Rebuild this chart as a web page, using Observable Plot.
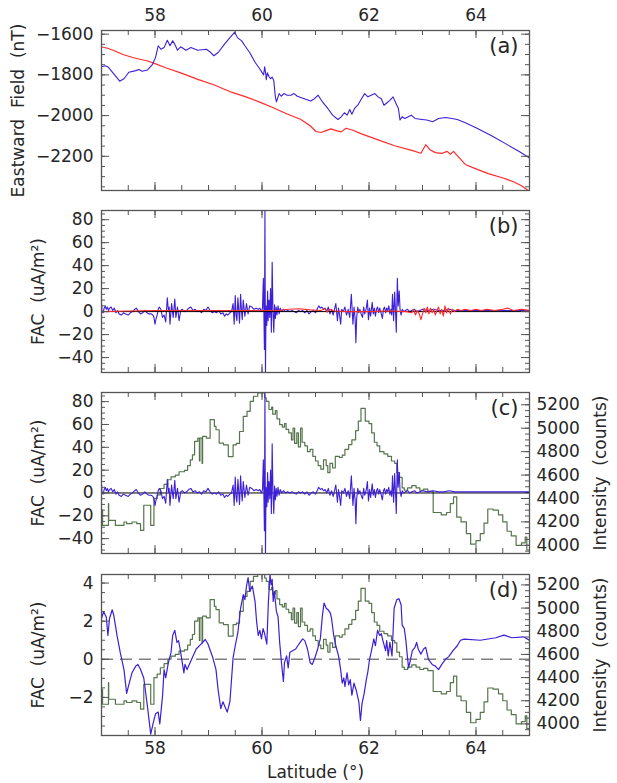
<!DOCTYPE html>
<html>
<head>
<meta charset="utf-8">
<script src="https://cdn.jsdelivr.net/npm/d3@7"></script>
<script src="https://cdn.jsdelivr.net/npm/@observablehq/plot@0.6"></script>
<style>
  body { margin: 0; background: #fff; }
  #fig { position: relative; width: 617px; height: 783px; background: #fff; overflow: hidden; }
  #fig svg { position: absolute; left: 0; }
</style>
</head>
<body>
<div id="fig"></div>
<script>
// ---------------- DATA ----------------
const latLabels = [58, 60, 62, 64];
const eastTickLabels = [-2200, -2000, -1800, -1600];
const facTickLabels = [-40, -20, 0, 20, 40, 60, 80];
const facSmoothTickLabels = [-2, 0, 2, 4];
const intensityTickLabels = [4000, 4200, 4400, 4600, 4800, 5000, 5200];
const panelNames = ["(a)", "(b)", "(c)", "(d)"];

// (a) eastward field, observed (blue) [latitude, nT]
const eastObserved = [
[57.00,-1760],[57.07,-1755],[57.13,-1763],[57.23,-1795],[57.34,-1831],[57.42,-1819],[57.51,-1787],[57.64,-1779],[57.70,-1774],[57.76,-1782],[57.86,-1776],[57.95,-1750],[58.01,-1714],[58.06,-1657],[58.11,-1674],[58.17,-1666],[58.23,-1630],[58.28,-1657],[58.33,-1633],[58.37,-1649],[58.42,-1679],[58.48,-1662],[58.58,-1679],[58.67,-1666],[58.80,-1679],[58.96,-1674],[59.02,-1685],[59.10,-1706],[59.18,-1690],[59.30,-1649],[59.40,-1617],[59.49,-1590],[59.54,-1617],[59.62,-1633],[59.68,-1657],[59.77,-1690],[59.87,-1738],[59.96,-1771],[60.03,-1800],[60.05,-1760],[60.07,-1795],[60.08,-1824],[60.10,-1790],[60.13,-1808],[60.16,-1819],[60.19,-1811],[60.22,-1828],[60.25,-1908],[60.27,-1933],[60.32,-1892],[60.36,-1905],[60.41,-1892],[60.47,-1900],[60.54,-1900],[60.60,-1892],[60.66,-1905],[60.79,-1917],[60.91,-1928],[60.98,-1917],[61.05,-1900],[61.13,-1933],[61.23,-1965],[61.32,-1998],[61.42,-2019],[61.48,-2006],[61.54,-1986],[61.59,-1998],[61.64,-1970],[61.68,-1993],[61.73,-1965],[61.79,-1949],[61.86,-1917],[61.92,-1892],[61.98,-1908],[62.04,-1900],[62.11,-1892],[62.17,-1908],[62.23,-1917],[62.28,-1949],[62.33,-1938],[62.39,-1925],[62.45,-1908],[62.52,-1949],[62.55,-1965],[62.58,-2022],[62.62,-2006],[62.67,-2014],[62.79,-1998],[62.86,-2014],[62.99,-2019],[63.08,-2022],[63.19,-2030],[63.30,-2014],[63.43,-2009],[63.55,-2014],[63.65,-2019],[63.80,-2035],[64.00,-2060],[64.30,-2100],[64.60,-2145],[64.80,-2175],[65.00,-2208]
];

// (a) eastward field, model (red)
const eastModel = [
[57.00,-1663],[57.10,-1668],[57.23,-1680],[57.40,-1700],[57.60,-1716],[57.86,-1732],[58.00,-1745],[58.20,-1765],[58.48,-1790],[58.80,-1822],[59.11,-1850],[59.43,-1885],[59.70,-1908],[59.97,-1935],[60.20,-1960],[60.47,-1992],[60.72,-2018],[60.90,-2050],[61.01,-2078],[61.10,-2083],[61.20,-2074],[61.29,-2065],[61.40,-2075],[61.48,-2080],[61.57,-2062],[61.70,-2072],[61.86,-2090],[62.17,-2119],[62.48,-2148],[62.80,-2171],[62.97,-2185],[63.06,-2143],[63.14,-2168],[63.24,-2182],[63.36,-2186],[63.46,-2176],[63.52,-2190],[63.58,-2176],[63.65,-2197],[63.80,-2240],[64.00,-2262],[64.23,-2285],[64.52,-2308],[64.70,-2325],[64.85,-2345],[65.00,-2372]
];

// (b),(c) field-aligned current, observed (blue) [latitude, uA/m2]
const facObserved = [
[57.000,8],[57.010,0],[57.030,-1],[57.050,3],[57.070,5],[57.090,2],[57.110,4],[57.130,1],[57.150,3],[57.180,4],[57.210,1],[57.240,3],[57.270,-1],[57.300,1],[57.330,-2],[57.370,-3],[57.410,-1],[57.450,-2],[57.500,-3],[57.540,-1],[57.580,0],[57.620,2],[57.650,3],[57.690,0],[57.730,-2],[57.770,-1],[57.810,1],[57.850,-1],[57.890,-2],[57.930,-2],[57.960,-3],[57.980,-5],[58.000,-11],[58.020,-6],[58.040,-3],[58.060,2],[58.080,4],[58.110,2],[58.140,-5],[58.170,-3],[58.200,-9],[58.230,12],[58.250,1],[58.265,4],[58.280,-11],[58.310,7],[58.340,-5],[58.370,11],[58.390,-5],[58.420,4],[58.450,-8],[58.480,1],[58.510,2],[58.550,0],[58.590,1],[58.630,3],[58.670,4],[58.710,1],[58.750,2],[58.790,0],[58.830,1],[58.870,-1],[58.910,2],[58.950,1],[58.990,4],[59.030,1],[59.070,-1],[59.110,0],[59.150,-1],[59.190,1],[59.230,-2],[59.270,-1],[59.300,-4],[59.330,-2],[59.360,-3],[59.400,-1],[59.430,0],[59.460,7],[59.480,-11],[59.500,14],[59.515,-3],[59.530,-8],[59.550,12],[59.580,-10],[59.600,15],[59.615,2],[59.630,-7],[59.650,10],[59.680,-4],[59.710,7],[59.740,-2],[59.770,5],[59.810,4],[59.850,2],[59.890,3],[59.930,2],[59.960,3],[59.990,0],[60.010,3],[60.025,29],[60.035,0],[60.045,-33],[60.055,88],[60.065,-54],[60.075,5],[60.090,-12],[60.105,18],[60.115,-8],[60.130,10],[60.145,-5],[60.160,20],[60.175,-18],[60.190,43],[60.205,0],[60.220,-18],[60.235,6],[60.250,-6],[60.265,4],[60.280,-3],[60.300,5],[60.320,-2],[60.340,3],[60.370,0],[60.400,2],[60.440,0],[60.480,1],[60.520,0],[60.560,1],[60.600,0],[60.640,-1],[60.680,1],[60.720,0],[60.760,1],[60.800,-1],[60.840,1],[60.880,-2],[60.920,0],[60.960,1],[61.000,-1],[61.030,2],[61.060,5],[61.090,3],[61.120,4],[61.150,2],[61.180,3],[61.210,0],[61.240,4],[61.270,-2],[61.300,2],[61.330,-3],[61.360,3],[61.380,7],[61.410,-8],[61.430,3],[61.450,-3],[61.470,-11],[61.490,2],[61.520,0],[61.550,4],[61.580,-3],[61.610,2],[61.640,-5],[61.670,15],[61.700,-11],[61.720,4],[61.740,-6],[61.755,-27],[61.770,-5],[61.790,4],[61.810,-1],[61.830,2],[61.860,-3],[61.880,-5],[61.900,4],[61.920,-2],[61.950,3],[61.970,10],[61.990,-7],[62.010,3],[62.030,-4],[62.060,8],[62.080,-2],[62.100,3],[62.120,-4],[62.140,2],[62.160,4],[62.180,-1],[62.200,3],[62.230,-2],[62.250,-6],[62.270,2],[62.290,4],[62.310,-1],[62.330,3],[62.350,1],[62.370,5],[62.390,-2],[62.410,2],[62.425,-3],[62.440,15],[62.460,-8],[62.480,17],[62.500,-5],[62.510,-18],[62.530,29],[62.545,5],[62.565,18],[62.580,2],[62.600,-3],[62.620,2],[62.650,0],[62.680,1],[62.720,2],[62.760,0],[62.800,1],[62.850,2],[62.900,0],[62.950,1],[63.000,2],[63.100,1],[63.200,2],[63.300,1],[63.400,1],[63.500,2],[63.600,1],[63.700,1],[63.800,1],[63.900,1],[64.000,1],[64.200,1],[64.400,1],[64.600,1],[64.800,1],[65.000,1]
];

// (b) field-aligned current, model (red)
const facModel = [
[57.00,0],[57.50,0.5],[58.00,1],[58.50,1],[59.00,1],[59.50,1],[60.00,1],[60.30,1],[60.50,2],[60.70,2.5],[60.90,1.5],[61.10,1],[61.18,2.5],[61.22,-0.5],[61.26,2],[61.35,0.5],[61.60,0],[62.00,0],[62.40,0.5],[62.70,0],[62.80,-1],[62.83,2],[62.87,-3],[62.90,1],[62.94,-2],[62.97,-7],[63.00,-2],[63.03,3],[63.06,-1],[63.09,4],[63.12,-2],[63.15,3],[63.18,-1],[63.21,2],[63.24,-3],[63.27,1],[63.30,4],[63.33,-2],[63.36,2],[63.39,-4],[63.42,5],[63.45,-1],[63.48,3],[63.52,-2],[63.56,2],[63.60,0],[63.65,2],[63.72,1],[63.80,2],[63.90,1],[64.00,2],[64.10,1],[64.20,2],[64.35,1],[64.50,2],[64.60,3],[64.70,1],[64.85,2],[65.00,1]
];

// (d) smoothed field-aligned current (blue)
const facSmoothed = [
[57.00,2.14],[57.04,2.5],[57.09,2.2],[57.12,1.25],[57.15,2.14],[57.20,2.6],[57.23,2.3],[57.29,1.25],[57.35,0.36],[57.42,-0.54],[57.47,-1.79],[57.51,-1.34],[57.57,-0.71],[57.64,-0.36],[57.68,-0.27],[57.73,-0.54],[57.79,-0.98],[57.86,-2.5],[57.92,-3.93],[57.97,-3.3],[58.01,-2.86],[58.06,-2.77],[58.09,-3.39],[58.14,-1.96],[58.17,-0.54],[58.20,-0.98],[58.25,-0.18],[58.30,0.36],[58.33,1.25],[58.37,1.52],[58.41,0.89],[58.44,0.98],[58.47,0.54],[58.50,0],[58.54,-0.71],[58.56,-0.27],[58.60,-0.54],[58.67,-0.09],[58.77,0.54],[58.86,0.8],[58.94,1.04],[58.99,0.8],[59.08,0.09],[59.14,-0.54],[59.18,-1.61],[59.23,-2.59],[59.27,-2.23],[59.31,-2.5],[59.35,-2.77],[59.40,-2.23],[59.43,-1.07],[59.46,0.09],[59.50,0.71],[59.55,1.43],[59.60,2.68],[59.65,3.39],[59.68,3.13],[59.71,3.84],[59.74,4.29],[59.77,3.57],[59.82,3.84],[59.87,3.04],[59.90,1.96],[59.93,1.25],[59.96,1.52],[59.99,1.07],[60.02,1.61],[60.05,1.34],[60.09,0.8],[60.12,3.04],[60.15,4.46],[60.17,3.9],[60.19,4.2],[60.21,3.04],[60.23,3.57],[60.27,2.5],[60.30,2.23],[60.33,0.89],[60.37,-0.36],[60.40,-1.16],[60.42,-0.18],[60.46,0.18],[60.49,-0.45],[60.52,0.36],[60.57,0.45],[60.63,0.54],[60.69,0.8],[60.76,1.07],[60.80,0.98],[60.85,0.54],[60.90,-0.18],[60.94,-0.27],[60.99,0.09],[61.04,0.54],[61.09,1.07],[61.13,2.32],[61.16,2.95],[61.20,2.68],[61.24,2.59],[61.28,2.41],[61.30,2.14],[61.34,1.25],[61.38,0.71],[61.43,0.18],[61.47,-0.54],[61.50,-1.25],[61.53,-0.98],[61.55,-1.43],[61.59,-0.71],[61.62,-1.34],[61.65,-1.07],[61.68,-1.88],[61.72,-1.25],[61.76,-1.61],[61.81,-2.23],[61.84,-3.21],[61.87,-2.32],[61.91,-1.79],[61.95,-1.07],[61.98,-0.63],[62.01,0],[62.04,0.36],[62.09,1.07],[62.12,0.71],[62.16,1.52],[62.20,1.25],[62.23,1.34],[62.26,0.98],[62.31,0.45],[62.33,0.98],[62.36,0.18],[62.39,0.89],[62.43,0.18],[62.47,2.68],[62.52,3.13],[62.56,3.18],[62.60,2.86],[62.62,1.79],[62.66,1.61],[62.69,0.98],[62.71,0.36],[62.74,-0.45],[62.77,-0.09],[62.81,0.45],[62.86,0.63],[62.89,0.89],[62.92,0.54],[62.97,0.27],[63.02,0.54],[63.06,0.63],[63.11,0],[63.18,-0.27],[63.24,-0.36],[63.30,-0.54],[63.36,-0.27],[63.43,0],[63.49,0.14],[63.57,0.45],[63.65,0.71],[63.71,1.0],[63.78,1.06],[64.08,1.0],[64.37,1.13],[64.52,1.27],[64.67,1.13],[64.89,1.18],[65.00,1.0]
];

// (c),(d) intensity, counts (green, stepped)
const intensity = [
[57.00,4300],[57.02,4170],[57.13,4356],[57.135,4213],[57.23,4213],[57.26,4170],[57.42,4199],[57.47,4185],[57.57,4199],[57.66,4185],[57.73,4127],[57.79,4342],[57.92,4170],[57.98,4400],[58.04,4430],[58.10,4485],[58.17,4520],[58.24,4560],[58.30,4585],[58.38,4600],[58.45,4628],[58.55,4640],[58.61,4680],[58.66,4730],[58.70,4772],[58.74,4887],[58.80,4915],[58.83,4720],[58.84,4915],[58.88,4700],[58.89,4930],[58.96,4915],[59.03,5073],[59.11,5015],[59.14,4987],[59.20,4873],[59.28,4858],[59.37,4758],[59.46,4858],[59.52,4870],[59.58,4972],[59.65,5101],[59.72,5144],[59.78,5230],[59.84,5273],[59.92,5302],[60.05,5260],[60.08,5230],[60.13,5160],[60.18,5180],[60.20,5120],[60.25,5150],[60.28,5080],[60.33,5030],[60.38,5010],[60.42,5040],[60.45,4990],[60.50,4960],[60.55,4900],[60.58,5000],[60.61,4870],[60.65,4960],[60.68,4840],[60.72,5000],[60.75,4880],[60.80,4850],[60.85,4800],[60.90,4820],[60.95,4760],[61.00,4720],[61.05,4680],[61.10,4650],[61.15,4730],[61.20,4680],[61.23,4620],[61.27,4700],[61.32,4660],[61.37,4760],[61.45,4750],[61.50,4770],[61.55,4820],[61.62,4860],[61.68,4900],[61.75,4980],[61.80,5060],[61.85,5170],[61.93,5060],[62.00,5040],[62.05,4960],[62.10,4880],[62.15,4850],[62.20,4800],[62.28,4780],[62.35,4760],[62.42,4720],[62.48,4700],[62.52,4620],[62.57,4580],[62.62,4490],[62.66,4470],[62.72,4490],[62.80,4510],[62.88,4490],[62.95,4470],[63.02,4480],[63.10,4460],[63.20,4280],[63.35,4260],[63.45,4280],[63.52,4356],[63.58,4413],[63.64,4240],[63.72,4200],[63.82,4100],[63.90,4010],[64.00,4040],[64.08,4100],[64.15,4190],[64.22,4310],[64.32,4300],[64.42,4260],[64.50,4200],[64.58,4120],[64.66,4080],[64.75,4000],[64.85,4020],[64.92,4070],[64.95,3960],[65.00,3960]
];

// ---------------- STYLE / LAYOUT ----------------
const W = 617, ML = 101, MR = 88, IW = W - ML - MR;
const FONT = "DejaVu Sans";
const INK = "#262626";
const FRAME = "#555";
const BLUE = "#3d1fd6", RED = "#ff2b2b", GREEN = "#56754d";
const fig = document.getElementById("fig");
const fmt = d => (d < 0 ? "\u2212" + (-d) : String(d));

const latMinor = d3.range(57.5, 65, 0.5);

function yTicks(vals, len, side) {
  return Plot.tickY(vals, {y: d => d, stroke: FRAME, strokeWidth: 1,
    ...(side === "left" ? {insetRight: IW - len} : {insetLeft: IW - len})});
}
function xTicks(IH) {
  return [
    Plot.tickX(latMinor, {x: d => d, stroke: FRAME, insetTop: IH - 5}),
    Plot.tickX(latMinor, {x: d => d, stroke: FRAME, insetBottom: IH - 5}),
    Plot.tickX(latLabels, {x: d => d, stroke: FRAME, insetTop: IH - 8}),
    Plot.tickX(latLabels, {x: d => d, stroke: FRAME, insetBottom: IH - 8})
  ];
}
function leftLabels(vals) {
  return Plot.text(vals, {y: d => d, text: fmt, frameAnchor: "left", dx: -8, textAnchor: "end", fill: INK, fontSize: 17});
}
function rightLabels(vals) {
  return Plot.text(vals, {y: d => d, text: fmt, frameAnchor: "right", dx: 7, textAnchor: "start", fill: INK, fontSize: 17});
}
function vTitle(str, side, dx) {
  return Plot.text([str], {text: d => d, frameAnchor: side, dx, rotate: -90, textAnchor: "middle", lineAnchor: "middle", fill: INK, fontSize: 17});
}
function panelLabel(str) {
  return Plot.text([str], {text: d => d, frameAnchor: "top-right", dx: -11, dy: 16, textAnchor: "end", lineAnchor: "middle", fill: INK, fontSize: 21});
}

function addPlot({top, height, mt, mb, yDomain, marks, transparent = false}) {
  const svg = Plot.plot({
    width: W, height,
    marginTop: mt, marginBottom: mb, marginLeft: ML, marginRight: MR,
    x: {domain: [57, 65], axis: null},
    y: {domain: yDomain, axis: null},
    style: {fontFamily: FONT, fontSize: "17px", color: INK,
            background: transparent ? "transparent" : "white", overflow: "visible"},
    marks
  });
  svg.style.position = "absolute";
  svg.style.top = top + "px";
  svg.style.left = "0px";
  fig.appendChild(svg);
}

// ---------------- PANEL (a) ----------------
{
  const IH = 160;
  const dom = [-2368, -1582];
  const minor = d3.range(-2350, -1582, 50);
  addPlot({top: 0, height: 200, mt: 30, mb: 10, yDomain: dom, marks: [
    Plot.line(eastModel, {x: d => d[0], y: d => d[1], stroke: RED, strokeWidth: 1.2, clip: true}),
    Plot.line(eastObserved, {x: d => d[0], y: d => d[1], stroke: BLUE, strokeWidth: 1.1, clip: true}),
    yTicks(minor, 4, "left"), yTicks(minor, 4, "right"),
    yTicks(eastTickLabels, 8, "left"), yTicks(eastTickLabels, 8, "right"),
    ...xTicks(IH),
    Plot.frame({stroke: FRAME, strokeWidth: 1.3}),
    leftLabels(eastTickLabels),
    Plot.text(latLabels, {x: d => d, text: d => String(d), frameAnchor: "top", dy: -15, lineAnchor: "middle", fill: INK, fontSize: 17}),
    vTitle("Eastward\u00a0 Field\u00a0 (nT)", "left", -83),
    panelLabel(panelNames[0])
  ]});
}

// ---------------- PANEL (b) ----------------
const facDom = [-53, 88];
const facMinor = d3.range(-50, 88, 5);
{
  const IH = 162;
  addPlot({top: 200, height: 182, mt: 10, mb: 10, yDomain: facDom, marks: [
    Plot.line(facObserved, {x: d => d[0], y: d => d[1], stroke: BLUE, strokeWidth: 1.1, clip: true}),
    Plot.ruleY([0], {stroke: "#000", strokeWidth: 1}),
    Plot.line(facModel, {x: d => d[0], y: d => d[1], stroke: RED, strokeWidth: 1.1, clip: true}),
    yTicks(facMinor, 4, "left"), yTicks(facMinor, 4, "right"),
    yTicks(facTickLabels, 8, "left"), yTicks(facTickLabels, 8, "right"),
    ...xTicks(IH),
    Plot.frame({stroke: FRAME, strokeWidth: 1.3}),
    leftLabels(facTickLabels),
    vTitle("FAC\u00a0 (uA/m\u00b2)", "left", -63),
    panelLabel(panelNames[1])
  ]});
}

// ---------------- PANEL (c) ----------------
const intMinor = d3.range(3950, 5300, 50);
{
  const IH = 161;
  addPlot({top: 382, height: 181, mt: 10, mb: 10, yDomain: [3930, 5305], marks: [
    Plot.line(intensity, {x: d => d[0], y: d => d[1], stroke: GREEN, strokeWidth: 1.2, curve: "step-after", clip: true}),
    yTicks(intMinor, 4, "right"), yTicks(intensityTickLabels, 8, "right"),
    rightLabels(intensityTickLabels),
    vTitle("Intensity\u00a0 (counts)", "right", 71)
  ]});
  addPlot({top: 382, height: 181, mt: 10, mb: 10, yDomain: facDom, transparent: true, marks: [
    Plot.ruleY([0], {stroke: "#000", strokeWidth: 1}),
    Plot.line(facObserved, {x: d => d[0], y: d => d[1], stroke: BLUE, strokeWidth: 1.1, clip: true}),
    yTicks(facMinor, 4, "left"), yTicks(facTickLabels, 8, "left"),
    ...xTicks(IH),
    Plot.frame({stroke: FRAME, strokeWidth: 1.3}),
    leftLabels(facTickLabels),
    vTitle("FAC\u00a0 (uA/m\u00b2)", "left", -63),
    panelLabel(panelNames[2])
  ]});
}

// ---------------- PANEL (d) ----------------
{
  const IH = 161;
  const dom = [-4.0, 4.45];
  const minor = d3.range(-3.5, 4.45, 0.5);
  addPlot({top: 564, height: 219, mt: 10, mb: 48, yDomain: [3900, 5290], marks: [
    Plot.line(intensity, {x: d => d[0], y: d => d[1], stroke: GREEN, strokeWidth: 1.2, curve: "step-after", clip: true}),
    yTicks(intMinor, 4, "right"), yTicks(intensityTickLabels, 8, "right"),
    rightLabels(intensityTickLabels),
    vTitle("Intensity\u00a0 (counts)", "right", 71)
  ]});
  addPlot({top: 564, height: 219, mt: 10, mb: 48, yDomain: dom, transparent: true, marks: [
    Plot.ruleY([0], {stroke: "#808080", strokeWidth: 1.5, strokeDasharray: "12,7"}),
    Plot.line(facSmoothed, {x: d => d[0], y: d => d[1], stroke: BLUE, strokeWidth: 1.2, clip: true}),
    yTicks(minor, 4, "left"), yTicks(facSmoothTickLabels, 8, "left"),
    ...xTicks(IH),
    Plot.frame({stroke: FRAME, strokeWidth: 1.3}),
    leftLabels(facSmoothTickLabels),
    Plot.text(latLabels, {x: d => d, text: d => String(d), frameAnchor: "bottom", dy: 13, lineAnchor: "middle", fill: INK, fontSize: 17}),
    Plot.text(["Latitude (\u00b0)"], {text: d => d, frameAnchor: "bottom", dy: 37, lineAnchor: "middle", fill: INK, fontSize: 17}),
    vTitle("FAC\u00a0 (uA/m\u00b2)", "left", -63),
    panelLabel(panelNames[3])
  ]});
}
</script>
</body>
</html>
